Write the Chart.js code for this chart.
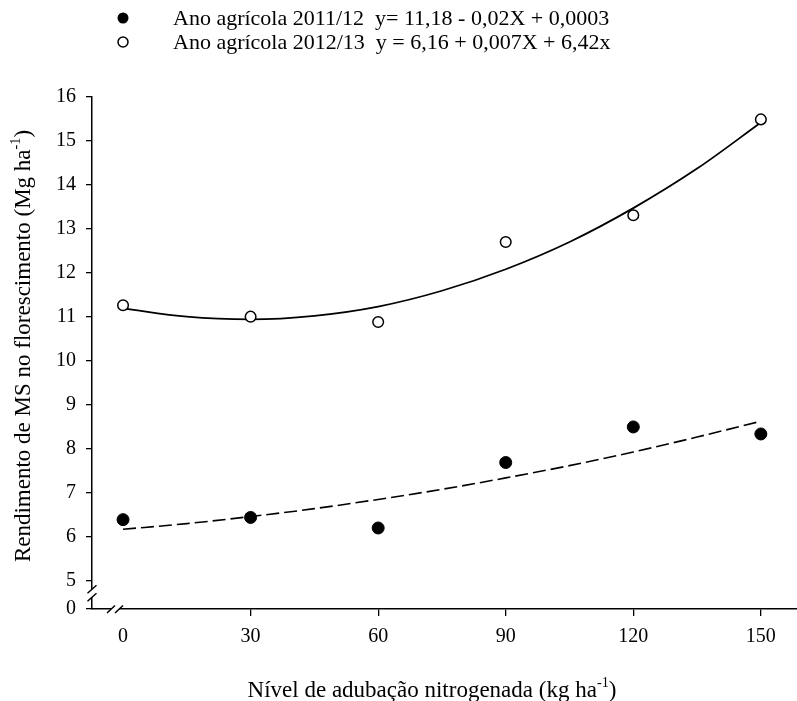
<!DOCTYPE html>
<html>
<head>
<meta charset="utf-8">
<script src="https://cdn.jsdelivr.net/npm/chart.js@4.4.1/dist/chart.umd.min.js"></script>
<style>
  html, body { margin: 0; padding: 0; background: #fff; }
  canvas { display: block; }
</style>
</head>
<body>
<canvas id="nitrogenChart" width="797" height="701"></canvas>
<script>
// observed yields (Mg ha-1) per nitrogen level (kg ha-1)
const nitrogenLevels = [0, 30, 60, 90, 120, 150];
const yield2011 = [6.38, 6.43, 6.19, 7.68, 8.49, 8.33];
const yield2012 = [11.26, 11.00, 10.88, 12.70, 13.31, 15.49];

// fitted curves, every 15 kg
const curveLevels = [0, 15, 30, 45, 60, 75, 90, 105, 120, 135, 150];
const fit2011 = [6.16, 6.29, 6.45, 6.63, 6.84, 7.07, 7.33, 7.61, 7.92, 8.26, 8.62];
const fit2012 = [11.19, 11.00, 10.94, 11.02, 11.23, 11.59, 12.08, 12.70, 13.47, 14.37, 15.42];

const xTicks = [0, 30, 60, 90, 120, 150];
const yTicks = [5, 6, 7, 8, 9, 10, 11, 12, 13, 14, 15, 16];
const yBreakValue = 4.346; // bottom of the broken axis, labelled "0"

const legendLabels = [
  'Ano agrícola 2011/12  y= 11,18 - 0,02X + 0,0003',
  'Ano agrícola 2012/13  y = 6,16 + 0,007X + 6,42x'
];

const FONT = '"Liberation Serif", "Times New Roman", serif';

const toPoints = (xs, ys) => xs.map((x, i) => ({ x: x, y: ys[i] }));

// draws a line of text made of normal and superscript parts
function drawParts(ctx, parts, x, y, size) {
  let total = 0;
  parts.forEach(p => {
    ctx.font = (p.sup ? size * 0.62 : size) + 'px ' + FONT;
    total += ctx.measureText(p.t).width;
  });
  let cx = x - total / 2;
  ctx.textAlign = 'left';
  ctx.textBaseline = 'alphabetic';
  parts.forEach(p => {
    ctx.font = (p.sup ? size * 0.62 : size) + 'px ' + FONT;
    ctx.fillText(p.t, cx, p.sup ? y - size * 0.45 : y);
    cx += ctx.measureText(p.t).width;
  });
}

const decorations = {
  id: 'decorations',
  afterDraw(chart) {
    const ctx = chart.ctx;
    const xs = chart.scales.x;
    const ys = chart.scales.y;
    ctx.save();
    ctx.fillStyle = '#000';

    // legend
    ctx.lineWidth = 1.5;
    ctx.strokeStyle = '#000';
    ctx.beginPath();
    ctx.arc(123, 18, 5.5, 0, Math.PI * 2);
    ctx.fill();
    ctx.beginPath();
    ctx.arc(123, 42, 5, 0, Math.PI * 2);
    ctx.stroke();
    ctx.font = '22px ' + FONT;
    ctx.textAlign = 'left';
    ctx.textBaseline = 'middle';
    ctx.fillText(legendLabels[0], 173, 19);
    ctx.fillText(legendLabels[1], 173, 43);

    // axis break marks
    const ax = ys.right;
    const ay = xs.top;
    const y5 = ys.getPixelForValue(5);
    ctx.fillStyle = '#fff';
    ctx.fillRect(ax - 2, y5 + 9, 4, 8);
    ctx.fillRect(111, ay - 2, 8, 4);
    ctx.strokeStyle = '#000';
    ctx.lineWidth = 1.5;
    ctx.beginPath();
    ctx.moveTo(ax - 4.5, y5 + 13); ctx.lineTo(ax + 4.5, y5 + 5);
    ctx.moveTo(ax - 4.5, y5 + 21); ctx.lineTo(ax + 4.5, y5 + 13);
    ctx.moveTo(107, ay + 4); ctx.lineTo(115, ay - 3.5);
    ctx.moveTo(115, ay + 4); ctx.lineTo(123, ay - 3.5);
    ctx.stroke();

    // axis titles
    ctx.fillStyle = '#000';
    drawParts(ctx, [
      { t: 'Nível de adubação nitrogenada (kg ha' },
      { t: '-1', sup: true },
      { t: ')' }
    ], 432, 697, 23);

    ctx.translate(30, 346);
    ctx.rotate(-Math.PI / 2);
    drawParts(ctx, [
      { t: 'Rendimento de MS no florescimento (Mg ha' },
      { t: '-1', sup: true },
      { t: ')' }
    ], 0, 0, 23);
    ctx.restore();
  }
};

new Chart(document.getElementById('nitrogenChart'), {
  type: 'scatter',
  data: {
    datasets: [
      {
        label: legendLabels[0],
        data: toPoints(nitrogenLevels, yield2011),
        backgroundColor: '#000',
        borderColor: '#000',
        pointRadius: 6,
        order: 0
      },
      {
        label: legendLabels[1],
        data: toPoints(nitrogenLevels, yield2012),
        backgroundColor: '#fff',
        borderColor: '#000',
        borderWidth: 1.5,
        pointRadius: 5.3,
        order: 0
      },
      {
        label: 'ajuste 2011/12',
        data: toPoints(curveLevels, fit2011),
        showLine: true,
        borderColor: '#000',
        borderWidth: 1.6,
        borderDash: [13, 5],
        pointRadius: 0,
        cubicInterpolationMode: 'monotone',
        order: 1
      },
      {
        label: 'ajuste 2012/13',
        data: toPoints(curveLevels, fit2012),
        showLine: true,
        borderColor: '#000',
        borderWidth: 1.8,
        pointRadius: 0,
        cubicInterpolationMode: 'monotone',
        order: 1
      }
    ]
  },
  options: {
    responsive: false,
    animation: false,
    devicePixelRatio: 1,
    layout: { autoPadding: false, padding: { top: 97, right: 0, left: 0, bottom: 0 } },
    plugins: {
      legend: { display: false },
      tooltip: { enabled: false }
    },
    scales: {
      x: {
        type: 'linear',
        min: -7.3,
        max: 158.5,
        afterBuildTicks: scale => { scale.ticks = xTicks.map(v => ({ value: v })); },
        afterFit: scale => { scale.height = 92; },
        border: { display: true, color: '#000', width: 1.5 },
        grid: {
          drawOnChartArea: false,
          drawTicks: true,
          tickLength: 7,
          lineWidth: 1.3,
          color: c => (c.tick && c.tick.value === 0 ? 'rgba(0,0,0,0)' : '#000')
        },
        ticks: {
          color: '#000',
          padding: 9,
          maxRotation: 0,
          font: { family: FONT, size: 20 }
        }
      },
      y: {
        type: 'linear',
        min: yBreakValue,
        max: 16,
        afterBuildTicks: scale => {
          scale.ticks = [yBreakValue].concat(yTicks).map(v => ({ value: v }));
        },
        afterFit: scale => { scale.width = 92; },
        border: { display: true, color: '#000', width: 1.5 },
        grid: {
          drawOnChartArea: false,
          drawTicks: true,
          tickLength: 6,
          lineWidth: 1.3,
          color: '#000'
        },
        ticks: {
          color: '#000',
          padding: 10,
          font: { family: FONT, size: 20 },
          callback: v => (v < 5 ? '0' : String(v))
        }
      }
    }
  },
  plugins: [decorations]
});
</script>
</body>
</html>
